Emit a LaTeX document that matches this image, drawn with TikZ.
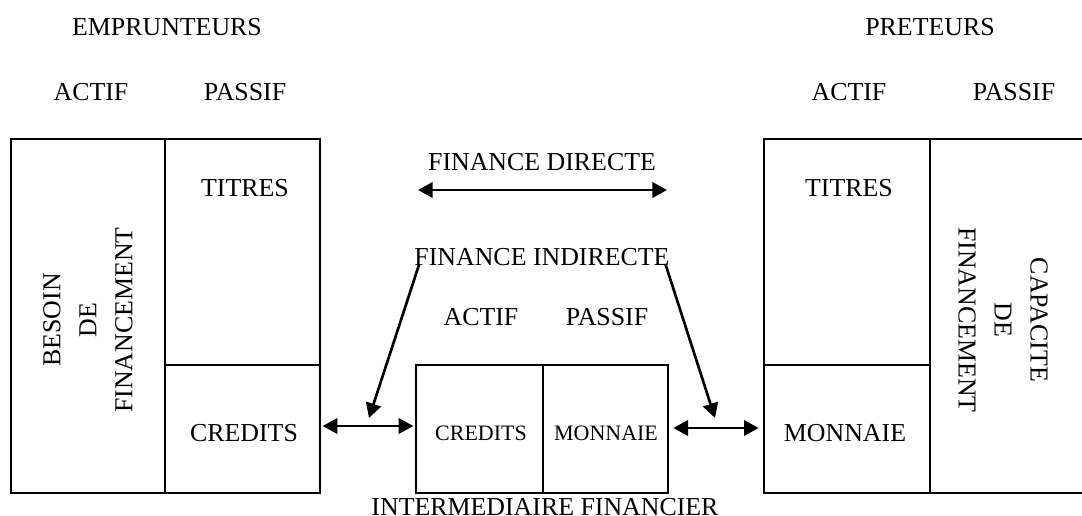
\documentclass[tikz,border=0pt]{standalone}
\usepackage{fontspec}
\setmainfont{Liberation Serif}
\usetikzlibrary{arrows.meta,fit}

\tikzset{every picture/.style={line width=2pt}}
\tikzset{
  cell/.style={draw, rectangle, inner sep=0pt, line width=2pt},
  lbl/.style={font=\fontsize{19.4}{26}\selectfont, inner sep=0pt},
  smalllbl/.style={font=\fontsize{16.5}{20}\selectfont, inner sep=0pt},
  vlbl/.style={font=\fontsize{19.4}{27}\selectfont, align=center, inner sep=0pt},
  flow/.style={-{Triangle[length=11pt,width=11.5pt]}, line width=2pt},
  twoway/.style={{Triangle[length=11pt,width=11.5pt]}-{Triangle[length=11pt,width=11.5pt]}, line width=2pt}
}

\begin{document}
\begin{tikzpicture}[x=0.75pt,y=0.75pt,yscale=-1,xscale=1]
\useasboundingbox (0,0) rectangle (1082,516);
\clip (0,0) rectangle (1082,516);

%Shape: Rectangle [emprunteurs]
\node [cell, fit={(11,139) (165,493)}] (besoinE) {};
\node [cell, fit={(165,139) (320,365)}] (titresE) {};
\node [cell, fit={(165,365) (320,493)}] (creditsE) {};
%Shape: Rectangle [intermediaire]
\node [cell, fit={(416,365) (543,493)}] (creditsI) {};
\node [cell, fit={(543,365) (668,493)}] (monnaieI) {};
%Shape: Rectangle [preteurs]
\node [cell, fit={(764,139) (930,365)}] (titresP) {};
\node [cell, fit={(764,365) (930,493)}] (monnaieP) {};
\node [cell, fit={(930,139) (1095,493)}] (capaciteP) {};

% Text Node
\node [lbl] (emprunteurs) at (167,27) {EMPRUNTEURS};
% Text Node
\node [lbl] (preteurs) at (930,27) {PRETEURS};
% Text Node
\node [lbl] (actifE) at (91,92) {ACTIF};
% Text Node
\node [lbl] (passifE) at (245,92) {PASSIF};
% Text Node
\node [lbl] (actifP) at (849,92) {ACTIF};
% Text Node
\node [lbl] (passifP) at (1014,92) {PASSIF};
% Text Node
\node [lbl] at (245,188) {TITRES};
% Text Node
\node [lbl] at (244,433) {CREDITS};
% Text Node
\node [lbl] at (849,188) {TITRES};
% Text Node
\node [lbl] at (845,433) {MONNAIE};
% Text Node
\node [vlbl, rotate=90] at (88,320) {BESOIN\\DE\\FINANCEMENT};
% Text Node
\node [vlbl, rotate=-90] at (1003,320) {CAPACITE\\DE\\FINANCEMENT};
% Text Node
\node [lbl] (fdirecte) at (542,162) {FINANCE DIRECTE};
% Text Node
\node [lbl] (findirecte) at (542,257) {FINANCE INDIRECTE};
% Text Node
\node [lbl] (actifI) at (481,317) {ACTIF};
% Text Node
\node [lbl] (passifI) at (607,317) {PASSIF};
% Text Node
\node [smalllbl] at (481,433) {CREDITS};
% Text Node
\node [smalllbl] at (606,433) {MONNAIE};
% Text Node
\node [lbl] (intermediaire) at (545,507) {INTERMEDIAIRE FINANCIER};

%Straight Lines [finance directe]
\coordinate (dirL) at (418,190);
\coordinate (dirR) at (667,190);
\draw [twoway] (dirL) -- (dirR);
%Straight Lines [finance indirecte]
\coordinate (indL) at (369,418);
\coordinate (indR) at (715,418);
\draw [flow] ([xshift=4.5pt,yshift=-2pt]findirecte.south west) -- (indL);
\draw [flow] ([xshift=-4pt,yshift=-2pt]findirecte.south east) -- (indR);
%Straight Lines [echanges]
\draw [twoway, shorten <=1pt, shorten >=1pt] ([yshift=-2.25pt]creditsE.east) -- ([yshift=-2.25pt]creditsI.west);
\draw [twoway, shorten <=3pt, shorten >=3pt] ([yshift=-0.75pt]monnaieI.east) -- ([yshift=-0.75pt]monnaieP.west);

\end{tikzpicture}
\end{document}
